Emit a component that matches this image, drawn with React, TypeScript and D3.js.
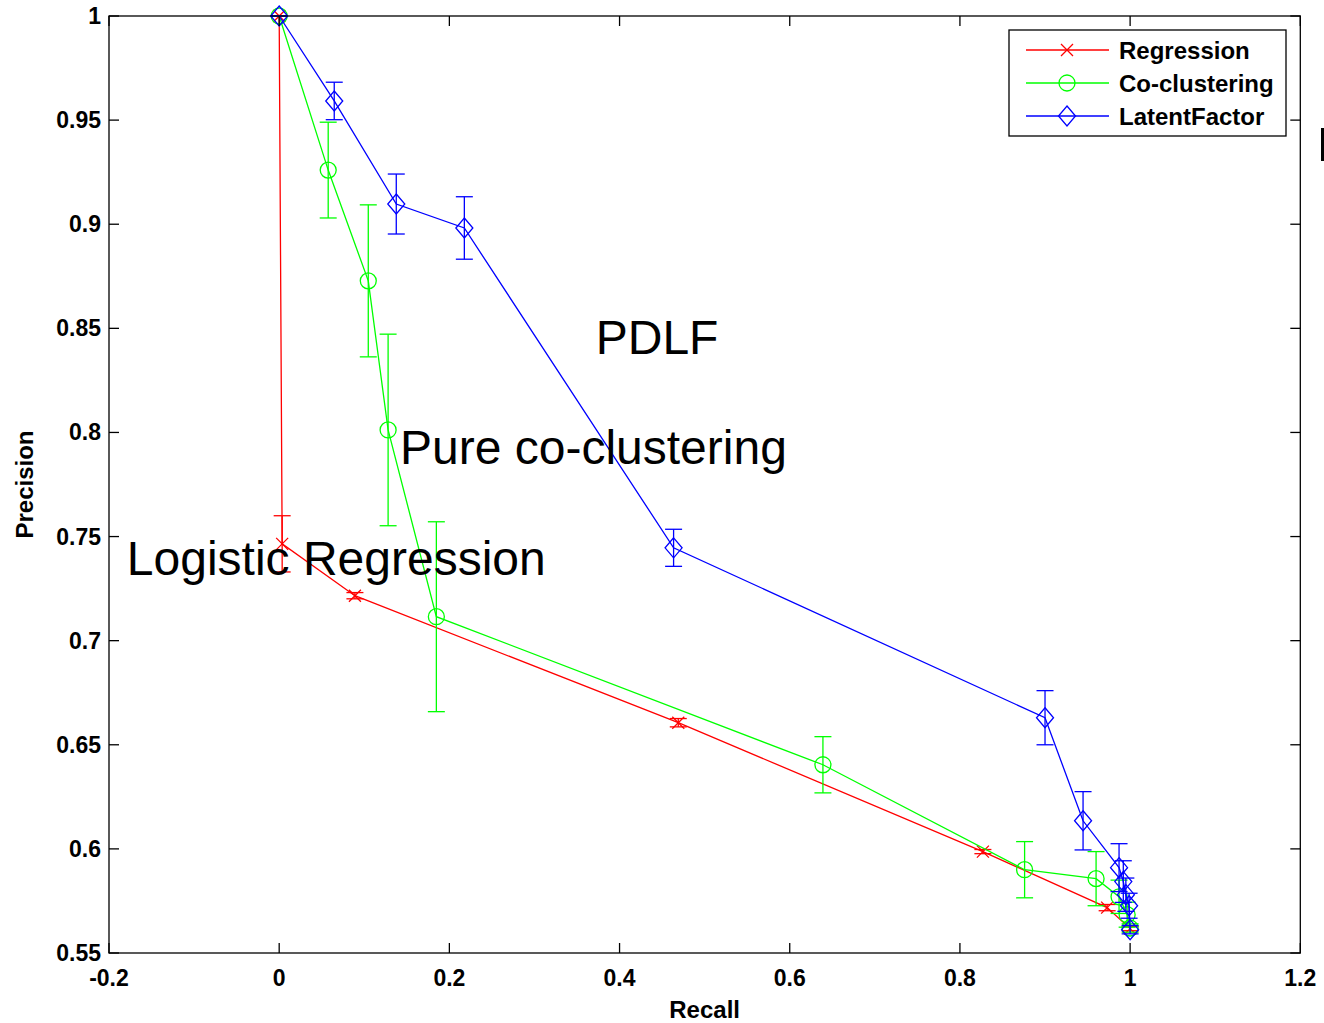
import * as d3 from "d3";

const xTicks = [-0.2, 0, 0.2, 0.4, 0.6, 0.8, 1, 1.2];
const xTickLabels = ["-0.2", "0", "0.2", "0.4", "0.6", "0.8", "1", "1.2"];
const yTicks = [0.55, 0.6, 0.65, 0.7, 0.75, 0.8, 0.85, 0.9, 0.95, 1];
const yTickLabels = ["0.55", "0.6", "0.65", "0.7", "0.75", "0.8", "0.85", "0.9", "0.95", "1"];

// Regression
const regRecall = [0, 0.0035, 0.089, 0.469, 0.827, 0.973, 1.0];
const regPrecision = [1, 0.7465, 0.7216, 0.6606, 0.5987, 0.5718, 0.5617];
const regErr = [0, 0.0135, 0.0015, 0.002, 0.001, 0.0015, 0.001];

// Co-clustering
const coRecall = [0, 0.0576, 0.1047, 0.128, 0.1847, 0.639, 0.876, 0.96, 0.987, 0.9965, 1.0];
const coPrecision = [1, 0.926, 0.8728, 0.8012, 0.7115, 0.6404, 0.59, 0.5857, 0.577, 0.5684, 0.562];
const coErr = [0, 0.023, 0.0365, 0.046, 0.0456, 0.0135, 0.0135, 0.013, 0.008, 0.006, 0.002];

// LatentFactor
const lfRecall = [0, 0.0647, 0.1376, 0.2176, 0.4635, 0.9, 0.9447, 0.987, 0.992, 0.995, 0.9988, 1.0];
const lfPrecision = [1, 0.9592, 0.9097, 0.8982, 0.7446, 0.663, 0.6135, 0.591, 0.5843, 0.578, 0.5727, 0.5612];
const lfErr = [0, 0.009, 0.0144, 0.015, 0.0089, 0.013, 0.014, 0.0115, 0.01, 0.008, 0.006, 0.002];

const seriesNames = ["Regression", "Co-clustering", "LatentFactor"];
const seriesColors = ["#ff0000", "#00ff00", "#0000ff"];
const seriesMarkers = ["x", "o", "d"];

const annotations = ["PDLF", "Pure co-clustering", "Logistic Regression"];
const annotationX = [0.372, 0.142, -0.179];
const annotationY = [0.8378, 0.785, 0.7313];

const W = 1324;
const H = 1023;
const margin = { left: 109, right: 24, top: 16, bottom: 70 };

const x = d3.scaleLinear().domain([-0.2, 1.2]).range([margin.left, W - margin.right + 0.3]);
const y = d3.scaleLinear().domain([0.55, 1]).range([H - margin.bottom, margin.top]);

const font = "'Liberation Sans', Arial, Helvetica, sans-serif";

function Marker({ type, cx, cy, color }: { type: string; cx: number; cy: number; color: string }) {
  if (type === "x") {
    const s = 6;
    return (
      <path
        d={`M${cx - s},${cy - s}L${cx + s},${cy + s}M${cx - s},${cy + s}L${cx + s},${cy - s}`}
        stroke={color}
        strokeWidth={1.3}
        fill="none"
      />
    );
  }
  if (type === "o") {
    return <circle cx={cx} cy={cy} r={8} stroke={color} strokeWidth={1.3} fill="none" />;
  }
  const w = 8.5;
  const h = 10;
  return (
    <path
      d={`M${cx},${cy - h}L${cx + w},${cy}L${cx},${cy + h}L${cx - w},${cy}Z`}
      stroke={color}
      strokeWidth={1.3}
      fill="none"
    />
  );
}

function Series({ xs, ys, errs, color, marker }: { xs: number[]; ys: number[]; errs: number[]; color: string; marker: string }) {
  const pts = xs.map((v, i) => [v, ys[i]] as [number, number]);
  const line = d3.line<[number, number]>().x((d) => x(d[0])).y((d) => y(d[1]));
  const cap = 8.5;
  return (
    <g>
      <path d={line(pts) || ""} stroke={color} strokeWidth={1.3} fill="none" />
      {pts.map((d, i) => {
        const px = x(d[0]);
        const top = y(d[1] + errs[i]);
        const bot = y(d[1] - errs[i]);
        return (
          <g key={i} stroke={color} strokeWidth={1.3}>
            <line x1={px} x2={px} y1={top} y2={bot} />
            <line x1={px - cap} x2={px + cap} y1={top} y2={top} />
            <line x1={px - cap} x2={px + cap} y1={bot} y2={bot} />
          </g>
        );
      })}
      {pts.map((d, i) => (
        <Marker key={"m" + i} type={marker} cx={x(d[0])} cy={y(d[1])} color={color} />
      ))}
    </g>
  );
}

export default function App() {
  const [x0, x1] = x.range();
  const [y0, y1] = y.range();
  const tick = 10;
  const allData = [
    [regRecall, regPrecision, regErr],
    [coRecall, coPrecision, coErr],
    [lfRecall, lfPrecision, lfErr],
  ];
  const legX = 1009;
  const legY = 30;
  const legW = 277;
  const legH = 106;
  return (
    <svg
      width={W}
      height={H}
      style={{ position: "absolute", left: 0, top: 0, background: "#fff" }}
      fontFamily={font}
    >
      <rect x={0} y={0} width={W} height={H} fill="#fff" />

      {allData.map((s, i) => (
        <Series key={i} xs={s[0]} ys={s[1]} errs={s[2]} color={seriesColors[i]} marker={seriesMarkers[i]} />
      ))}

      {/* axes box */}
      <g stroke="#000" strokeWidth={1.3} fill="none">
        <rect x={x0} y={y1} width={x1 - x0} height={y0 - y1} />
        {xTicks.map((t, i) => (
          <g key={"xt" + i}>
            <line x1={x(t)} x2={x(t)} y1={y0} y2={y0 - tick} />
            <line x1={x(t)} x2={x(t)} y1={y1} y2={y1 + tick} />
          </g>
        ))}
        {yTicks.map((t, i) => (
          <g key={"yt" + i}>
            <line x1={x0} x2={x0 + tick} y1={y(t)} y2={y(t)} />
            <line x1={x1} x2={x1 - tick} y1={y(t)} y2={y(t)} />
          </g>
        ))}
      </g>

      <g fontSize={23} fontWeight="bold" fill="#000">
        {xTicks.map((t, i) => (
          <text key={"xl" + i} x={x(t)} y={y0 + 33} textAnchor="middle">
            {xTickLabels[i]}
          </text>
        ))}
        {yTicks.map((t, i) => (
          <text key={"yl" + i} x={x0 - 8} y={y(t) + 8} textAnchor="end">
            {yTickLabels[i]}
          </text>
        ))}
        <text x={(x0 + x1) / 2} y={1018} textAnchor="middle" fontSize={24}>
          Recall
        </text>
        <text transform={`translate(33, ${(y0 + y1) / 2}) rotate(-90)`} textAnchor="middle" fontSize={24}>
          Precision
        </text>
      </g>

      <g fontSize={48} fill="#000">
        {annotations.map((a, i) => (
          <text key={a} x={x(annotationX[i])} y={y(annotationY[i])}>
            {a}
          </text>
        ))}
      </g>

      {/* legend */}
      <g>
        <rect x={legX} y={legY} width={legW} height={legH} fill="#fff" stroke="#000" strokeWidth={1.3} />
        {seriesNames.map((n, i) => {
          const ry = legY + 20 + i * 33;
          return (
            <g key={n}>
              <line x1={legX + 17} x2={legX + 100} y1={ry} y2={ry} stroke={seriesColors[i]} strokeWidth={1.3} />
              <Marker type={seriesMarkers[i]} cx={legX + 58} cy={ry} color={seriesColors[i]} />
              <text x={legX + 110} y={ry + 9} fontSize={24} fontWeight="bold" fill="#000">
                {n}
              </text>
            </g>
          );
        })}
      </g>

      {/* clipped fragment at right edge */}
      <rect x={1321} y={128} width={3} height={33} fill="#000" />
    </svg>
  );
}
